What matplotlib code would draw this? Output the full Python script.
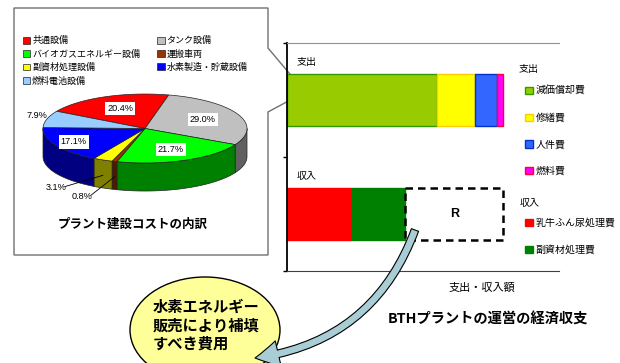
import numpy as np
import matplotlib
matplotlib.use("Agg")
import matplotlib.pyplot as plt
import matplotlib.transforms as mtransforms
from matplotlib.patches import Polygon, Ellipse, FancyArrowPatch

plt.rcParams['font.family'] = ['Noto Sans CJK JP', 'DejaVu Sans']
NUM_FONT = ['Liberation Sans', 'DejaVu Sans']

# plant construction cost breakdown (%)
cost_items = ['共通設備', 'タンク設備', 'バイオガスエネルギー設備', '運搬車両',
              '副資材処理設備', '水素製造・貯蔵設備', '燃料電池設備']
cost_share = [20.4, 29.0, 21.7, 0.8, 3.1, 17.1, 7.9]
top_colors = ['#ff0000', '#c0c0c0', '#00ff00', '#993300', '#ffff00', '#0000ff', '#99ccff']
side_colors = ['#800000', '#606060', '#008000', '#4d1a00', '#808000', '#000080', '#4d6680']

# operating balance of the plant (relative amounts)
balance_rows = ['支出', '収入']
expense_items = ['減価償却費', '修繕費', '人件費', '燃料費']
expense_values = [55.1, 14.1, 8.1, 2.2]
expense_colors = ['#99cc00', '#ffff00', '#3366ff', '#ff00ff']
expense_edges = ['#339900', '#ffcc00', '#0033cc', '#ff0033']
income_items = ['乳牛ふん尿処理費', '副資材処理費']
income_values = [24.0, 19.4]
income_colors = ['#ff0000', '#008000']

bubble_lines = ['水素エネルギー', '販売により補填', 'すべき費用']

W, H = 620, 363
fig = plt.figure(figsize=(W / 100, H / 100), dpi=100)


def px_box(x0, y0, x1, y1):
    return [x0 / W, 1 - y1 / H, (x1 - x0) / W, (y1 - y0) / H]


def px_pt(x, y):
    return (x / W, 1 - y / H)


# background layer in pixel units
ax_bg = fig.add_axes([0, 0, 1, 1], zorder=0)
ax_bg.set_xlim(0, W)
ax_bg.set_ylim(H, 0)
ax_bg.axis('off')

ax_bg.add_patch(Polygon([(14, 8), (268, 8), (268, 48), (305, 92), (268, 112),
                         (268, 255), (14, 255)], closed=True,
                        fc='white', ec='#707070', lw=1))
ax_bg.text(133, 224, 'プラント建設コストの内訳', fontsize=9, weight='bold',
           ha='center', va='center')

ax_bg.add_patch(Ellipse((205, 330), 150, 106, fc='#ffff99', ec='black', lw=1))
for k, line in enumerate(bubble_lines):
    ax_bg.text(153, 307 + 18.5 * k, line, fontsize=11, weight='bold',
               ha='left', va='center')

ax_bg.text(488, 320, 'BTHプラントの運営の経済収支', fontsize=10.3, weight='bold',
           ha='center', va='center')

# --- 3D pie of the construction cost ---
ax_pie = fig.add_axes(px_box(12.4, 57.1, 277.6, 230.5), zorder=1)
ax_pie.set_xlim(-1.3, 1.3)
ax_pie.set_ylim(-1.0, 0.7)
ax_pie.axis('off')

b, depth = 0.338, 0.275
start = 150.0
bounds = start - np.concatenate([[0], np.cumsum(cost_share)]) * 3.6


def arc(t1, t2, n=60):
    th = np.radians(np.linspace(t1, t2, n))
    return np.cos(th), b * np.sin(th)


wedges = []
for i in range(len(cost_share)):
    t1, t2 = bounds[i], bounds[i + 1]
    # outer wall only where the rim faces the viewer
    for shift in (-360, 0, 360):
        lo, hi = max(t2, -180 + shift), min(t1, 0 + shift)
        if hi > lo:
            x, y = arc(hi, lo)
            pts = np.column_stack([np.r_[x, x[::-1]], np.r_[y, y[::-1] - depth]])
            ax_pie.add_patch(Polygon(pts, closed=True, fc=side_colors[i],
                                     ec='#222222', lw=0.5, zorder=1))
    x, y = arc(t1, t2)
    top = Polygon(np.column_stack([np.r_[0, x], np.r_[0, y]]), closed=True,
                  fc=top_colors[i], ec='#222222', lw=0.5, zorder=2)
    ax_pie.add_patch(top)
    wedges.append(top)

inner_r = {0: 0.62, 1: 0.62, 2: 0.65, 5: 0.8}
outer_off = {3: (-0.32, -0.19), 4: (-0.46, -0.12)}
for i, v in enumerate(cost_share):
    mid = np.radians((bounds[i] + bounds[i + 1]) / 2)
    txt = f'{v:.1f}%'
    if i in inner_r:
        r = inner_r[i]
        ax_pie.text(r * np.cos(mid), r * b * np.sin(mid), txt, family=NUM_FONT,
                    fontsize=6.6, ha='center', va='center', zorder=3,
                    bbox=dict(fc='white', ec='none', pad=1.5))
    elif i in outer_off:
        wx, wy = np.cos(mid), b * np.sin(mid) - depth * 0.55
        dx, dy = outer_off[i]
        ax_pie.plot([wx + dx + 0.09, wx], [wy + dy + 0.01, wy], color='black',
                    lw=0.6, zorder=3)
        ax_pie.text(wx + dx, wy + dy, txt, family=NUM_FONT, fontsize=6.6,
                    ha='center', va='center', zorder=3)
    else:
        ax_pie.text(1.1 * np.cos(mid), 1.1 * b * np.sin(mid) + 0.03, txt,
                    family=NUM_FONT, fontsize=6.6, ha='center', va='center')

order = [0, 2, 4, 6, 1, 3, 5]
ax_bg.legend([wedges[i] for i in order], [cost_items[i] for i in order],
             ncol=2, loc='upper left', bbox_to_anchor=px_pt(19.5, 32.5),
             borderaxespad=0, frameon=False, fontsize=6.5,
             handlelength=0.8, handleheight=0.8, handletextpad=0.2,
             labelspacing=0.47, columnspacing=1.9)

# --- operating balance bars ---
ax_bar = fig.add_axes(px_box(287, 43, 559, 271), zorder=2)
ax_bar.patch.set_alpha(0)
bar_h = 0.46

exp_handles = []
left = 0
for v, c, ec in zip(expense_values, expense_colors, expense_edges):
    exp_handles.append(ax_bar.barh(0, v, left=left, height=bar_h, color=c,
                                   edgecolor=ec, lw=1))
    left += v

inc_handles = []
left = 0
for v, c in zip(income_values, income_colors):
    inc_handles.append(ax_bar.barh(1, v, left=left, height=bar_h, color=c,
                                   edgecolor=c, lw=1))
    left += v

# shortfall to be covered by hydrogen sales
gap = sum(expense_values) - sum(income_values)
ax_bar.barh(1, gap, left=sum(income_values), height=bar_h, fill=False,
            edgecolor='black', ls=(0, (3, 2)), lw=1.8)
ax_bar.text(sum(income_values) + gap / 2, 1, 'R', family=NUM_FONT,
            fontsize=9, weight='bold', ha='center', va='center')

ax_bar.set_xlim(0, 100)
ax_bar.set_ylim(1.5, -0.5)
ax_bar.set_xticks([])
ax_bar.set_yticks([-0.5, 0.5, 1.5])
ax_bar.set_yticklabels([])
ax_bar.tick_params(axis='y', length=3, width=1, color='black')
ax_bar.spines['left'].set_linewidth(1.3)
ax_bar.spines['bottom'].set_color('#404040')
ax_bar.spines['top'].set_color('#909090')
ax_bar.spines['right'].set_visible(False)

row_tf = mtransforms.blended_transform_factory(ax_bar.transAxes, ax_bar.transData)
for i, name in enumerate(balance_rows):
    ax_bar.text(0.037, i - 0.33, name, transform=row_tf, fontsize=7.2,
                ha='left', va='center')

ax_bar.set_xlabel('支出・収入額', fontsize=8)
ax_bar.xaxis.label.set_va('center')
ax_bar.xaxis.set_label_coords(0.717, -0.075)

# legend groups, each with its own heading
leg_kw = dict(loc='upper left', borderaxespad=0, frameon=False, fontsize=7.2,
              handlelength=0.75, handleheight=0.75, handletextpad=0.3,
              labelspacing=1.67, bbox_transform=fig.transFigure)
fig.text(*px_pt(519, 69), balance_rows[0], fontsize=7.2, ha='left', va='center')
leg1 = ax_bar.legend(exp_handles, expense_items,
                     bbox_to_anchor=px_pt(521, 82), **leg_kw)
ax_bar.add_artist(leg1)
fig.text(*px_pt(520, 203), balance_rows[1], fontsize=7.2, ha='left', va='center')
ax_bar.legend(inc_handles, income_items,
              bbox_to_anchor=px_pt(521, 214), **leg_kw)

# curved arrow pointing to the bubble
ax_top = fig.add_axes([0, 0, 1, 1], zorder=5)
ax_top.set_xlim(0, W)
ax_top.set_ylim(H, 0)
ax_top.axis('off')
ax_top.patch.set_alpha(0)
ax_top.add_patch(FancyArrowPatch((415, 230), (255, 358),
                                 connectionstyle='arc3,rad=-0.3',
                                 arrowstyle='simple,head_length=17,head_width=19,tail_width=5.5',
                                 shrinkA=0, shrinkB=0, fc='#a8cdd4', ec='black', lw=0.8))

fig.savefig('out.png', dpi=100)
